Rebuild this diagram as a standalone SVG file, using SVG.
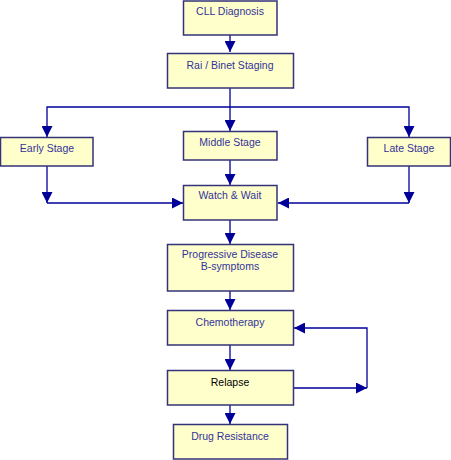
<svg xmlns="http://www.w3.org/2000/svg" width="451" height="460" viewBox="0 0 451 460">
<style>
.box{fill:#ffffcc;stroke:#333377;stroke-width:1.5}
.t{font-family:"Liberation Sans",Arial,sans-serif;font-size:10.5px;fill:#333399;text-anchor:middle}
.k{fill:#000000}
.c{fill:none;stroke:#000099;stroke-width:1.3}
</style>
<defs>
<marker id="ah" markerUnits="userSpaceOnUse" markerWidth="11" markerHeight="11" refX="10" refY="5" orient="auto" viewBox="0 0 10 10">
<path d="M0,0 L10,5 L0,10 z" fill="#000099"/>
</marker>
</defs>
<rect width="451" height="460" fill="#ffffff"/>
<g id="connectors">
<path class="c" marker-end="url(#ah)" d="M230,35 L230,52"/>
<path class="c" d="M230,88 L230,107"/>
<path class="c" marker-end="url(#ah)" d="M230,107 L47,107 L47,137"/>
<path class="c" marker-end="url(#ah)" d="M230,107 L409,107 L409,137"/>
<path class="c" marker-end="url(#ah)" d="M230,107 L230,131"/>
<path class="c" marker-end="url(#ah)" d="M230,160 L230,185"/>
<path class="c" marker-end="url(#ah)" d="M47,166 L47,203"/>
<path class="c" marker-end="url(#ah)" d="M47,203 L183,203"/>
<path class="c" marker-end="url(#ah)" d="M409,166 L409,203"/>
<path class="c" marker-end="url(#ah)" d="M409,203 L278,203"/>
<path class="c" marker-end="url(#ah)" d="M230,220 L230,244"/>
<path class="c" marker-end="url(#ah)" d="M230,291 L230,310"/>
<path class="c" marker-end="url(#ah)" d="M230,345 L230,370"/>
<path class="c" marker-end="url(#ah)" d="M230,405 L230,424"/>
<path class="c" marker-end="url(#ah)" d="M293,388 L367,388"/>
<path class="c" marker-end="url(#ah)" d="M367,388 L367,328 L294,328"/>
</g>
<g id="cll"><rect class="box" x="183.5" y="1" width="93.5" height="34"/><text class="t" x="230" y="15">CLL Diagnosis</text></g>
<g id="rai"><rect class="box" x="167.5" y="53.5" width="126" height="34.5"/><text class="t" x="230" y="69">Rai / Binet Staging</text></g>
<g id="early"><rect class="box" x="0.5" y="137.5" width="92.5" height="28.5"/><text class="t" x="47" y="152">Early Stage</text></g>
<g id="middle"><rect class="box" x="183.5" y="131.5" width="93.5" height="28.5"/><text class="t" x="230" y="146">Middle Stage</text></g>
<g id="late"><rect class="box" x="367.5" y="137.5" width="83" height="28.5"/><text class="t" x="409" y="152">Late Stage</text></g>
<g id="watch"><rect class="box" x="183.5" y="185.5" width="93.5" height="34.5"/><text class="t" x="230" y="199">Watch &amp; Wait</text></g>
<g id="progressive"><rect class="box" x="167.5" y="244.5" width="126" height="46.5"/><text class="t" x="230" y="258">Progressive Disease</text><text class="t" x="230" y="270">B-symptoms</text></g>
<g id="chemo"><rect class="box" x="167.5" y="310.5" width="126" height="34.5"/><text class="t" x="230" y="326">Chemotherapy</text></g>
<g id="relapse"><rect class="box" x="167.5" y="370.5" width="126" height="34.5"/><text class="t k" x="230" y="386">Relapse</text></g>
<g id="drug"><rect class="box" x="173.5" y="424.5" width="114" height="34.5"/><text class="t" x="230" y="440">Drug Resistance</text></g>
</svg>
